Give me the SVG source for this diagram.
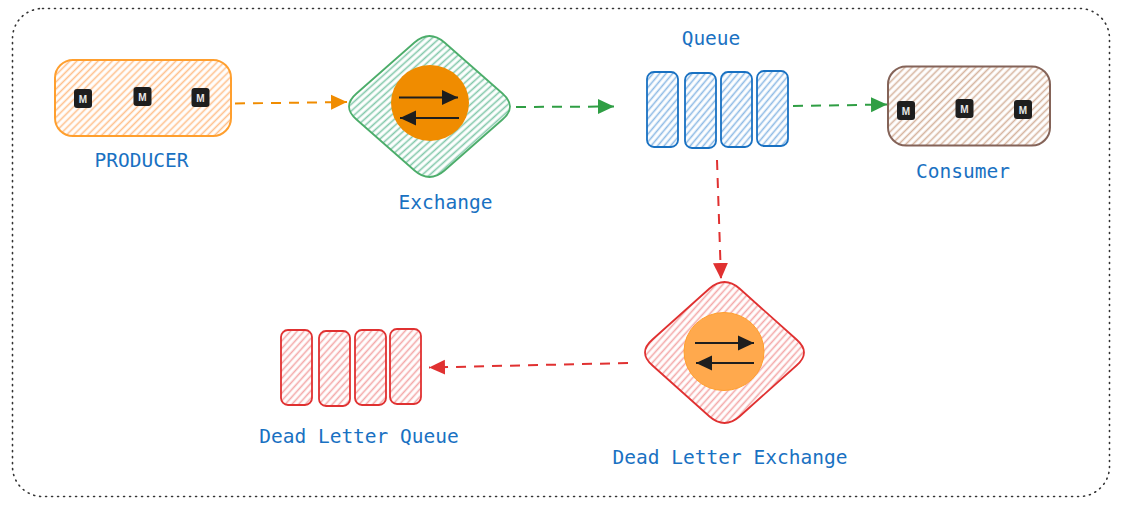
<svg xmlns="http://www.w3.org/2000/svg" width="1122" height="506" viewBox="0 0 1122 506">
<style>
.lbl{font-family:"DejaVu Sans Mono","Liberation Mono",monospace;font-size:19.5px;fill:#1971c2;text-anchor:middle}
.badge rect{fill:#1e1e1e}
.badge text{font-family:"Liberation Sans",Arial,sans-serif;font-size:10px;font-weight:700;fill:#e8e8e8;text-anchor:middle}
.c{fill:none;stroke-width:2;stroke-dasharray:10 8}
.in{fill:none;stroke:#1e1e1e;stroke-width:1.8;marker-end:url(#ak)}
.q{stroke:#1971c2;stroke-width:1.8;fill:url(#hb)}
.r{stroke:#e03131;stroke-width:1.8;fill:url(#hr)}
</style>
<defs>
<pattern id="ho" width="5" height="5" patternUnits="userSpaceOnUse" patternTransform="rotate(-45)"><rect width="5" height="5" fill="#fff"/><path d="M0 2.500H5" stroke="#ffc08c" stroke-width="1.6"/></pattern>
<pattern id="hg" width="5" height="5" patternUnits="userSpaceOnUse" patternTransform="rotate(-42)"><rect width="5" height="5" fill="#fff"/><path d="M0 2.500H5" stroke="#82c8aa" stroke-width="1.6"/></pattern>
<pattern id="hb" width="5" height="5" patternUnits="userSpaceOnUse" patternTransform="rotate(-50)"><rect width="5" height="5" fill="#fff"/><path d="M0 2.500H5" stroke="#8dbae5" stroke-width="1.6"/></pattern>
<pattern id="hn" width="5" height="5" patternUnits="userSpaceOnUse" patternTransform="rotate(-45)"><rect width="5" height="5" fill="#fff"/><path d="M0 2.500H5" stroke="#d6b49e" stroke-width="1.6"/></pattern>
<pattern id="hr" width="5" height="5" patternUnits="userSpaceOnUse" patternTransform="rotate(-48)"><rect width="5" height="5" fill="#fff"/><path d="M0 2.500H5" stroke="#f4a8a8" stroke-width="1.6"/></pattern>
<marker id="ao" markerUnits="userSpaceOnUse" markerWidth="18" markerHeight="18" refX="16" refY="9" orient="auto"><path d="M0 1.500L16 9L0 16.500Z" fill="#f08c00"/></marker>
<marker id="ag" markerUnits="userSpaceOnUse" markerWidth="18" markerHeight="18" refX="16" refY="9" orient="auto"><path d="M0 1.500L16 9L0 16.500Z" fill="#2f9e44"/></marker>
<marker id="ar" markerUnits="userSpaceOnUse" markerWidth="18" markerHeight="18" refX="16" refY="9" orient="auto"><path d="M0 1.500L16 9L0 16.500Z" fill="#e03131"/></marker>
<marker id="ak" markerUnits="userSpaceOnUse" markerWidth="18" markerHeight="18" refX="16" refY="9" orient="auto"><path d="M0 1.500L16 9L0 16.500Z" fill="#1e1e1e"/></marker>
</defs>
<rect width="1122" height="506" fill="#fff"/>
<rect id="boundary" x="12.500" y="8.500" width="1097" height="488" rx="30" fill="none" stroke="#333" stroke-width="1.600" stroke-dasharray="1 5" stroke-linecap="round"/>

<g id="producer">
<rect x="55" y="60" width="176" height="76" rx="18" fill="url(#ho)" stroke="#ff9f2e" stroke-width="2"/>
<g class="badge"><rect x="74" y="89" width="18" height="19" rx="3"/><text x="83" y="102.500">M</text></g>
<g class="badge"><rect x="133.500" y="87" width="18" height="19" rx="3"/><text x="142.500" y="100.500">M</text></g>
<g class="badge"><rect x="191.500" y="88" width="18" height="19" rx="3"/><text x="200.500" y="101.500">M</text></g>
<text class="lbl" x="141.500" y="167">PRODUCER</text>
</g>

<g id="exchange">
<path d="M414.500 42.500Q429.500 29.500 444.500 42.500L502.500 93.500Q517.500 106.500 502.500 119.500L444.500 170.500Q429.500 183.500 414.500 170.500L356.500 119.500Q341.500 106.500 356.500 93.500Z" fill="url(#hg)" stroke="#4cad6a" stroke-width="1.800"/>
<ellipse cx="430" cy="103" rx="39" ry="38" fill="#f08c00"/>
<path class="in" d="M399 97.500H458"/>
<path class="in" d="M459 118H400"/>
<text class="lbl" x="445.500" y="209">Exchange</text>
</g>

<g id="queue">
<rect class="q" x="647" y="72" width="31" height="75" rx="7"/>
<rect class="q" x="685" y="73" width="31" height="75" rx="7"/>
<rect class="q" x="721" y="72" width="31" height="75" rx="7"/>
<rect class="q" x="757" y="71" width="31" height="75" rx="7"/>
<text class="lbl" x="711" y="45">Queue</text>
</g>

<g id="consumer">
<rect x="888" y="66.500" width="162" height="79" rx="18" fill="url(#hn)" stroke="#846358" stroke-width="2"/>
<g class="badge"><rect x="897" y="101" width="18" height="19" rx="3"/><text x="906" y="114.500">M</text></g>
<g class="badge"><rect x="955.500" y="99" width="18" height="19" rx="3"/><text x="964.500" y="112.500">M</text></g>
<g class="badge"><rect x="1014" y="100" width="18" height="19" rx="3"/><text x="1023" y="113.500">M</text></g>
<text class="lbl" x="963" y="178">Consumer</text>
</g>

<g id="dead-letter-exchange">
<path d="M709.500 288.500Q724.500 275.500 739.500 288.500L796.500 339.500Q811.500 352.500 796.500 365.500L739.500 416.500Q724.500 429.500 709.500 416.500L652.500 365.500Q637.500 352.500 652.500 339.500Z" fill="url(#hr)" stroke="#e03131" stroke-width="1.800"/>
<ellipse cx="724" cy="351.500" rx="40" ry="39" fill="#ffa94d" stroke="#ff9f2e" stroke-width="1"/>
<path class="in" d="M695 343H754"/>
<path class="in" d="M754 363H696"/>
<text class="lbl" x="730" y="464">Dead Letter Exchange</text>
</g>

<g id="dead-letter-queue">
<rect class="r" x="281" y="330" width="31" height="75" rx="7"/>
<rect class="r" x="319" y="331" width="31" height="75" rx="7"/>
<rect class="r" x="355" y="330" width="31" height="75" rx="7"/>
<rect class="r" x="390" y="329" width="31" height="75" rx="7"/>
<text class="lbl" x="359" y="443">Dead Letter Queue</text>
</g>

<g id="connectors">
<path class="c" stroke="#f08c00" marker-end="url(#ao)" d="M235 103.500L347 102"/>
<path class="c" stroke="#2f9e44" marker-end="url(#ag)" d="M516 107L614 106.500"/>
<path class="c" stroke="#2f9e44" marker-end="url(#ag)" d="M793 106L887 104.500"/>
<path class="c" stroke="#e03131" marker-end="url(#ar)" d="M717 160L721 279"/>
<path class="c" stroke="#e03131" marker-end="url(#ar)" d="M628 363L429 367.500"/>
</g>
</svg>
